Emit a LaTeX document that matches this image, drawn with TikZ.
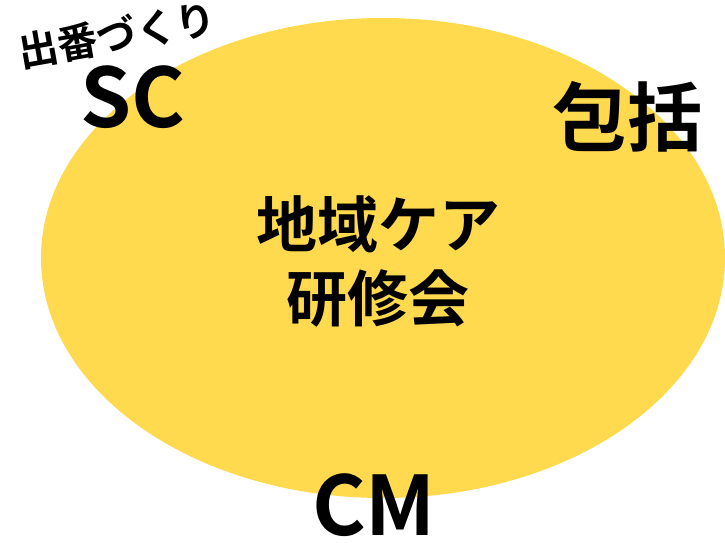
\documentclass[tikz,border=0pt]{standalone}
\usepackage{fontspec}
\setmainfont{Noto Sans CJK JP}[BoldFont={* Bold}]
\usetikzlibrary{positioning}
\definecolor{careyellow}{HTML}{FFDA4F}

\begin{document}
\begin{tikzpicture}[x=1pt, y=-1pt,
  role/.style={font=\bfseries\fontsize{82}{86}\selectfont, inner sep=0pt},
  center label/.style={font=\bfseries\fontsize{61}{74}\selectfont, align=center, inner sep=0pt},
  small label/.style={font=\bfseries\fontsize{40}{44}\selectfont, inner sep=0pt}]
  \useasboundingbox (0,0) rectangle (725,543);
  % yellow area of the meeting
  \fill[careyellow] (383,258) ellipse [x radius=342, y radius=240];
  % texts on and round it
  \node[center label] (meeting) at (378,262) {地域ケア\\研修会};
  \node[role] (sc) at (133,97) {SC};
  \node[small label, rotate=10] (chance) at (117,35) {出番づくり};
  \node[role, font=\bfseries\fontsize{75}{80}\selectfont] (center) at (627,117) {包括};
  \node[role] (cm) at (374,505) {CM};
\end{tikzpicture}
\end{document}
